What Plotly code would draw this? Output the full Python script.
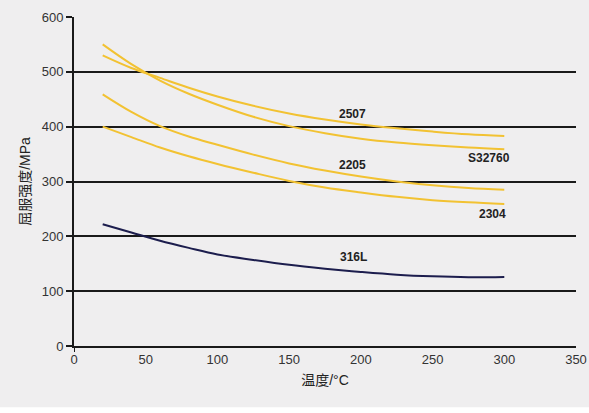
import plotly.graph_objects as go

# temperature points (°C)
temps = [20, 40, 60, 80, 100, 125, 150, 175, 200, 225, 250, 275, 300]

# yield strength (MPa)
y_s32760 = [550, 514, 484, 460, 440, 418, 401, 388, 378, 371, 366, 362, 359]
y_2507 = [530, 507, 489, 471, 455, 438, 424, 413, 404, 397, 391, 386, 383]
y_2205 = [459, 427, 401, 382, 367, 349, 333, 320, 309, 300, 293, 288, 285]
y_2304 = [400, 381, 362, 346, 332, 316, 301, 289, 280, 272, 266, 262, 259]
y_316l = [222, 207, 192, 179, 167, 157, 148, 141, 135, 130, 127, 125.5, 126]

series = [
    ("S32760", y_s32760, "#f2c232"),
    ("2507", y_2507, "#f2c232"),
    ("2205", y_2205, "#f2c232"),
    ("2304", y_2304, "#f2c232"),
    ("316L", y_316l, "#1c1d4d"),
]

# label text and where it sits (data coords)
label_text = ["2507", "S32760", "2205", "2304", "316L"]
label_x = [194, 289, 194, 292, 195]
label_y = [424, 343, 331, 241, 162]

font_cn = "Liberation Sans, Arial, Noto Sans CJK SC, sans-serif"

fig = go.Figure()
for name, ys, color in series:
    fig.add_trace(go.Scatter(
        x=temps, y=ys, mode="lines", name=name,
        line=dict(color=color, width=2, shape="spline"),
        hoverinfo="x+y+name",
    ))

for t, lx, ly in zip(label_text, label_x, label_y):
    fig.add_annotation(x=lx, y=ly, text="<b>" + t + "</b>", showarrow=False,
                       font=dict(family=font_cn, size=12, color="#222222"))

fig.update_layout(
    width=589, height=413,
    margin=dict(l=74, r=13, t=17, b=67),
    paper_bgcolor="#efeeef",
    plot_bgcolor="#efeeef",
    showlegend=False,
    font=dict(family=font_cn, size=13, color="#333333"),
    shapes=[
        # white strip at the very bottom
        dict(type="rect", xref="paper", yref="paper", x0=-0.2, x1=1.05,
             y0=-0.21, y1=-0.186, fillcolor="white", line=dict(width=0),
             layer="below"),
        # little overshoot of the y axis below zero
        dict(type="line", xref="x", yref="paper", x0=0, x1=0,
             y0=0, y1=-0.018, line=dict(color="#1a1a1a", width=2)),
    ],
)
fig.update_xaxes(
    range=[0, 350], tickvals=[0, 50, 100, 150, 200, 250, 300, 350],
    showgrid=False, zeroline=False, showline=True, automargin=False,
    linecolor="#1a1a1a", linewidth=2, ticks="",
    title=dict(text="温度/°C", standoff=10, font=dict(size=14, color="#222222")),
    tickfont=dict(size=13, color="#333333"),
)
fig.update_yaxes(
    range=[0, 600], tickvals=[0, 100, 200, 300, 400, 500, 600],
    showgrid=True, gridcolor="#1a1a1a", gridwidth=2, automargin=False,
    zeroline=False, showline=True, linecolor="#1a1a1a", linewidth=2,
    ticks="outside", ticklen=6, tickcolor="#1a1a1a", tickwidth=2,
    title=dict(text="屈服强度/MPa", standoff=8, font=dict(size=14, color="#222222")),
    tickfont=dict(size=13, color="#333333"),
)

# drop the default page margin so the figure sits at the top-left corner
fig.write_html("out.html", config={"displayModeBar": False},
               post_script="document.body.style.margin='0';")
